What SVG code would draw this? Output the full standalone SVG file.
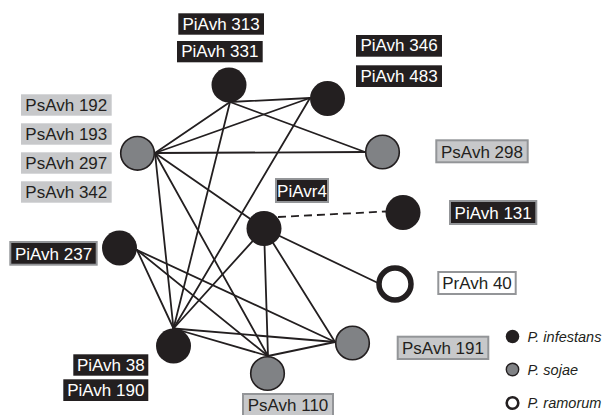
<svg xmlns="http://www.w3.org/2000/svg" width="608" height="415" viewBox="0 0 608 415">
<style>
.bg{fill:#ffffff}
.e{stroke:#231f20;stroke-width:1.8;fill:none;stroke-linecap:round}
.d{stroke:#231f20;stroke-width:1.8;fill:none;stroke-dasharray:8 5}
.pi{fill:#231f20}
.ps{fill:#808285;stroke:#231f20;stroke-width:1.6}
.pr{fill:#ffffff;stroke:#231f20;stroke-width:5.5}
.lb{fill:#231f20}
.lbb{fill:#231f20;stroke:#939598;stroke-width:2}
.lg{fill:#c7c8ca}
.lgb{fill:#c7c8ca;stroke:#939598;stroke-width:2}
.lw{fill:#ffffff;stroke:#939598;stroke-width:2}
.tw{font-family:"Liberation Sans",Arial,sans-serif;font-size:17px;fill:#ffffff;text-anchor:middle}
.tk{font-family:"Liberation Sans",Arial,sans-serif;font-size:17px;fill:#231f20;text-anchor:middle}
.leg{font-family:"Liberation Sans",Arial,sans-serif;font-size:14.5px;font-style:italic;fill:#231f20}
</style>
<rect class="bg" x="0" y="0" width="608" height="415"/>
<g id="connectors">
<line class="e" x1="230" y1="102" x2="310" y2="98"/>
<line class="e" x1="230" y1="102" x2="155" y2="153"/>
<line class="e" x1="230" y1="102" x2="365" y2="152"/>
<line class="e" x1="230" y1="102" x2="173.5" y2="328.5"/>
<line class="e" x1="310" y1="98" x2="155" y2="153"/>
<line class="e" x1="310" y1="98" x2="173.5" y2="328.5"/>
<line class="e" x1="155" y1="153" x2="365" y2="152"/>
<line class="e" x1="155" y1="153" x2="173.5" y2="328.5"/>
<line class="e" x1="155" y1="153" x2="268" y2="356"/>
<line class="e" x1="155" y1="153" x2="264" y2="228.5"/>
<line class="d" x1="278" y1="217" x2="386" y2="211.5"/>
<line class="e" x1="264" y1="228.5" x2="378" y2="283"/>
<line class="e" x1="264" y1="228.5" x2="335" y2="342"/>
<line class="e" x1="264" y1="228.5" x2="268" y2="356"/>
<line class="e" x1="264" y1="228.5" x2="173.5" y2="328.5"/>
<line class="e" x1="137" y1="250" x2="173.5" y2="328.5"/>
<line class="e" x1="137" y1="250" x2="268" y2="356"/>
<line class="e" x1="137" y1="250" x2="335" y2="342"/>
<line class="e" x1="173.5" y1="328.5" x2="335" y2="342"/>
<line class="e" x1="173.5" y1="328.5" x2="268" y2="356"/>
<line class="e" x1="268" y1="356" x2="335" y2="342"/>
</g>
<g id="n-piavh313">
<circle class="pi" cx="229" cy="85" r="17.5"/>
<rect class="lb" x="178.3" y="13.3" width="85.7" height="21.4"/>
<text class="tw" x="221.1" y="29.6">PiAvh 313</text>
<rect class="lb" x="177" y="41" width="85.7" height="21.3"/>
<text class="tw" x="219.8" y="57.3">PiAvh 331</text>
</g>
<g id="n-piavh346">
<circle class="pi" cx="327.5" cy="98.5" r="17.5"/>
<rect class="lb" x="356" y="35" width="86" height="21.7"/>
<text class="tw" x="399" y="51.4">PiAvh 346</text>
<rect class="lb" x="356" y="65.3" width="86" height="21.7"/>
<text class="tw" x="399" y="81.7">PiAvh 483</text>
</g>
<g id="n-psavh192">
<circle class="ps" cx="137.5" cy="153.3" r="16.8"/>
<rect class="lg" x="21" y="94.3" width="90.7" height="21.4"/>
<text class="tk" x="66.3" y="110.7">PsAvh 192</text>
<rect class="lg" x="21" y="123.3" width="90.7" height="21.4"/>
<text class="tk" x="66.3" y="139.7">PsAvh 193</text>
<rect class="lg" x="21" y="152.3" width="90.7" height="21.4"/>
<text class="tk" x="66.3" y="168.7">PsAvh 297</text>
<rect class="lg" x="21" y="181.3" width="90.7" height="21.4"/>
<text class="tk" x="66.3" y="197.7">PsAvh 342</text>
</g>
<g id="n-psavh298">
<circle class="ps" cx="382.5" cy="152" r="16.8"/>
<rect class="lgb" x="436.3" y="140.3" width="91.4" height="22"/>
<text class="tk" x="482" y="157.6">PsAvh 298</text>
</g>
<g id="n-piavr4">
<circle class="pi" cx="264" cy="228.5" r="17.5"/>
<rect class="lbb" x="276" y="179" width="52" height="23"/>
<text class="tw" x="302" y="196.5">PiAvr4</text>
</g>
<g id="n-piavh131">
<circle class="pi" cx="403" cy="212.5" r="17.5"/>
<rect class="lbb" x="450" y="201" width="86.3" height="23"/>
<text class="tw" x="493.2" y="218.5">PiAvh 131</text>
</g>
<g id="n-piavh237">
<circle class="pi" cx="119.5" cy="248" r="17.5"/>
<rect class="lbb" x="10.3" y="242" width="86.4" height="22.7"/>
<text class="tw" x="53.5" y="259.5">PiAvh 237</text>
</g>
<g id="n-pravh40">
<circle class="pr" cx="395" cy="284" r="16"/>
<rect class="lw" x="438.3" y="272" width="77.4" height="22"/>
<text class="tk" x="477" y="289.3">PrAvh 40</text>
</g>
<g id="n-piavh38">
<circle class="pi" cx="173.5" cy="346" r="17.5"/>
<rect class="lb" x="73.3" y="354.3" width="75" height="21.4"/>
<text class="tw" x="110.8" y="370.6">PiAvh 38</text>
<rect class="lb" x="63.3" y="379.3" width="85" height="21.7"/>
<text class="tw" x="105.8" y="395.7">PiAvh 190</text>
</g>
<g id="n-psavh110">
<circle class="ps" cx="267.5" cy="373.5" r="16.8"/>
<rect class="lgb" x="243" y="394" width="90" height="24"/>
<text class="tk" x="288" y="411.3">PsAvh 110</text>
</g>
<g id="n-psavh191">
<circle class="ps" cx="352.5" cy="343" r="16.8"/>
<rect class="lgb" x="397.7" y="336.7" width="90.6" height="22.3"/>
<text class="tk" x="443" y="354.2">PsAvh 191</text>
</g>
<g id="legend">
<circle class="pi" cx="512.5" cy="336.5" r="6.8"/>
<text class="leg" x="527.5" y="341.5">P. infestans</text>
<circle cx="512.5" cy="369.5" r="6.2" fill="#808285" stroke="#231f20" stroke-width="1.4"/>
<text class="leg" x="527.5" y="374.5">P. sojae</text>
<circle cx="512.5" cy="403" r="5.8" fill="#ffffff" stroke="#231f20" stroke-width="2.6"/>
<text class="leg" x="527.5" y="407.5">P. ramorum</text>
</g>
</svg>
